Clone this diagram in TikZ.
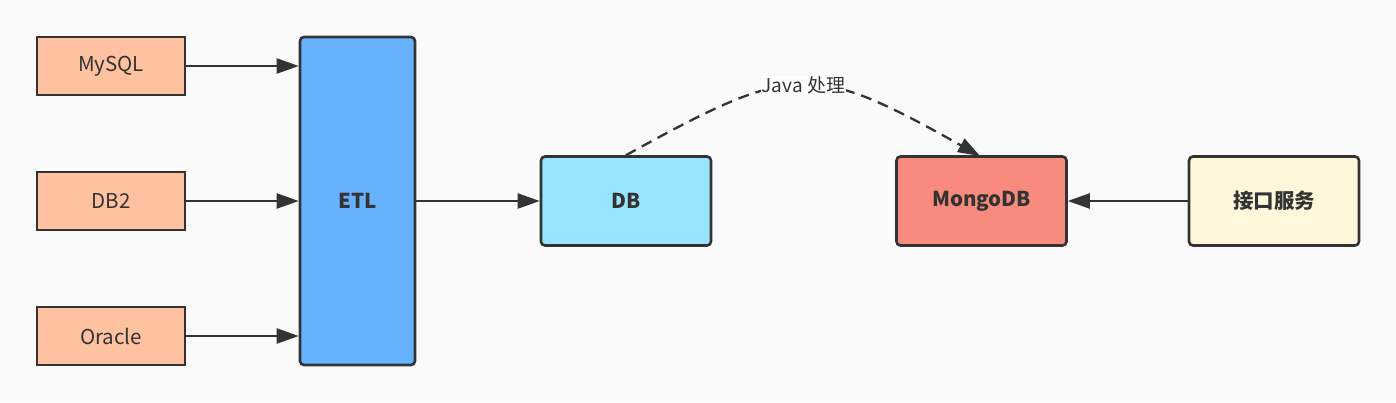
\documentclass[tikz,border=0pt]{standalone}
\usepackage{fontspec}
\setmainfont{Noto Sans CJK SC}
\usetikzlibrary{arrows.meta}
\definecolor{bgc}{HTML}{FAFAFA}
\definecolor{peach}{HTML}{FFC2A0}
\definecolor{etlc}{HTML}{66B2FF}
\definecolor{dbc}{HTML}{99E5FF}
\definecolor{mongoc}{HTML}{F88A7E}
\definecolor{apic}{HTML}{FFF7DC}
\definecolor{ink}{HTML}{333333}
\tikzset{
  srcbox/.style={draw=ink, line width=2.6pt, fill=peach, minimum width=148pt, minimum height=58pt, inner sep=0pt, font=\fontsize{20.5}{24}\selectfont, text=ink},
  rbox/.style={draw=ink, line width=2.6pt, rounded corners=4pt, minimum width=170pt, minimum height=89pt, inner sep=0pt, font=\fontsize{20.5}{24}\selectfont\bfseries, text=ink},
  conn/.style={draw=ink, line width=2.3pt, -{Triangle[length=22pt,width=15pt]}},
}
\begin{document}
\begin{tikzpicture}[x=1pt,y=-1pt]
\useasboundingbox[fill=bgc] (0,0) rectangle (1396,402);
\node[srcbox] (mysql) at (111,66) {MySQL};
\node[srcbox] (db2) at (111,201) {DB2};
\node[srcbox] (oracle) at (111,336) {Oracle};
\node[rbox, fill=etlc, minimum width=115pt, minimum height=328pt] (etl) at (357.5,201) {ETL};
\node[rbox, fill=dbc] (db) at (626,201) {DB};
\node[rbox, fill=mongoc] (mongo) at (981.5,201) {MongoDB};
\node[rbox, fill=apic] (api) at (1274,201) {接口服务};
\draw[conn] (mysql.east) -- (mysql.east -| etl.west);
\draw[conn] (db2.east) -- (etl.west |- db2.east);
\draw[conn] (oracle.east) -- (oracle.east -| etl.west);
\draw[conn] (etl.east) -- (db.west);
\draw[conn] (api.west) -- (mongo.east);
\coordinate (cs) at (db.north);
\coordinate (ce) at (980,156);
\draw[conn, dash pattern=on 11pt off 7pt] (cs) .. controls (795,62) and (812,62) .. (ce)
  node[pos=0.5, fill=white, inner sep=0.5pt, font=\fontsize{19}{22}\selectfont, text=ink] (lbl) {Java 处理};
\end{tikzpicture}
\end{document}
